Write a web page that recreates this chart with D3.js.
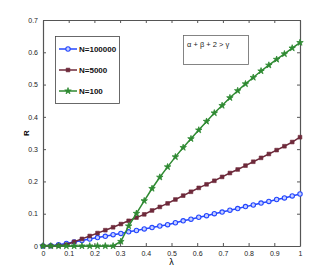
<!DOCTYPE html>
<html>
<head>
<meta charset="utf-8">
<style>
  body { margin: 0; background: #fff; }
  text { font-family: "Liberation Sans", Arial, sans-serif; }
</style>
</head>
<body>
<script src="https://d3js.org/d3.v7.min.js"></script>
<script>
// lambda sampled at i/33, i = 0..33
var lambda = d3.range(34).map(function(i) { return i / 33; });

var rBig = [0, 0.001, 0.004, 0.008, 0.0125, 0.017, 0.0215, 0.026, 0.030, 0.035, 0.039, 0.044,
            0.048, 0.053, 0.057, 0.062, 0.066, 0.072, 0.078, 0.083, 0.089, 0.094, 0.100, 0.105,
            0.111, 0.116, 0.122, 0.127, 0.133, 0.138, 0.144, 0.149, 0.155, 0.161];
var rMid = [0, 0, 0.001, 0.004, 0.013, 0.022, 0.031, 0.040, 0.049, 0.058, 0.068, 0.078,
            0.088, 0.098, 0.110, 0.121, 0.132, 0.144, 0.156, 0.168, 0.180, 0.191, 0.202, 0.214,
            0.226, 0.237, 0.249, 0.261, 0.273, 0.285, 0.297, 0.309, 0.322, 0.337];
var rSmall = [0, 0, 0, 0, 0, 0, 0, 0, 0, 0, 0.014, 0.062,
              0.101, 0.140, 0.178, 0.213, 0.245, 0.276, 0.305, 0.332, 0.359, 0.386, 0.412, 0.435,
              0.459, 0.481, 0.502, 0.522, 0.542, 0.560, 0.578, 0.595, 0.613, 0.630];

var seriesNames = ["N=100000", "N=5000", "N=100"];
var xTicks = [0, 0.1, 0.2, 0.3, 0.4, 0.5, 0.6, 0.7, 0.8, 0.9, 1];
var yTicks = [0, 0.1, 0.2, 0.3, 0.4, 0.5, 0.6, 0.7];

var W = 332, H = 277;
var margin = {top: 20, right: 32, bottom: 31, left: 43};
var width = W - margin.left - margin.right,
    height = H - margin.top - margin.bottom;

var x = d3.scaleLinear().domain([0, 1]).range([0, width]);
var y = d3.scaleLinear().domain([0, 0.7]).range([height, 0]);

var svg = d3.select("body").append("svg")
    .attr("width", W).attr("height", H);

var chart = svg.append("g")
    .attr("transform", "translate(" + margin.left + "," + margin.top + ")");

var fmt = function(d) { return d === 0 ? "0" : d === 1 ? "1" : d3.format(".1f")(d); };

// axes, ticks pointing inward, box on
var gx = chart.append("g").attr("transform", "translate(0," + height + ")")
    .call(d3.axisBottom(x).tickValues(xTicks).tickSizeInner(-3).tickSizeOuter(0).tickPadding(5).tickFormat(fmt));
var gy = chart.append("g")
    .call(d3.axisLeft(y).tickValues(yTicks).tickSizeInner(-3).tickSizeOuter(0).tickPadding(5).tickFormat(fmt));
var gx2 = chart.append("g")
    .call(d3.axisTop(x).tickValues(xTicks).tickSizeInner(-3).tickSizeOuter(0).tickFormat(""));
var gy2 = chart.append("g").attr("transform", "translate(" + width + ",0)")
    .call(d3.axisRight(y).tickValues(yTicks).tickSizeInner(-3).tickSizeOuter(0).tickFormat(""));

[gx, gy, gx2, gy2].forEach(function(g) {
  g.selectAll(".domain").attr("stroke", "#555").attr("stroke-width", 1.2);
  g.selectAll(".tick line").attr("stroke", "#555");
  g.selectAll(".tick text").attr("fill", "#222").style("font-size", "7px");
});

chart.append("text")
    .attr("x", x(0.5)).attr("y", height + 19)
    .attr("text-anchor", "middle").style("font-size", "9px")
    .text("λ");
chart.append("text")
    .attr("transform", "translate(" + (-14) + "," + y(0.35) + ") rotate(-90)")
    .attr("text-anchor", "middle").style("font-size", "8px").style("font-weight", "bold")
    .text("R");

var colors = ["#2447ff", "#6e2a3b", "#2f8a32"];
var data = [rBig, rMid, rSmall];

var line = d3.line()
    .x(function(d, i) { return x(lambda[i]); })
    .y(function(d) { return y(d); });

var star = d3.symbol().type(d3.symbolStar).size(13);
var square = d3.symbol().type(d3.symbolSquare).size(14);

function drawMarker(g, k, cx, cy) {
  if (k === 0) {
    g.append("circle").attr("cx", cx).attr("cy", cy).attr("r", 2.2)
        .attr("fill", "#c8d0ff").attr("stroke", colors[0]).attr("stroke-width", 1.1);
  } else if (k === 1) {
    g.append("path").attr("d", square).attr("transform", "translate(" + cx + "," + cy + ")")
        .attr("fill", colors[1]).attr("stroke", colors[1]).attr("stroke-width", 0.6);
  } else {
    g.append("path").attr("d", star).attr("transform", "translate(" + cx + "," + cy + ")")
        .attr("fill", colors[2]).attr("stroke", colors[2]).attr("stroke-width", 0.8);
  }
}

data.forEach(function(vals, k) {
  chart.append("path").datum(vals)
      .attr("d", line).attr("fill", "none")
      .attr("stroke", colors[k]).attr("stroke-width", 1.5);
  var mg = chart.append("g");
  vals.forEach(function(v, i) { drawMarker(mg, k, x(lambda[i]), y(v)); });
});

// legend
var lg = svg.append("g");
lg.append("rect").attr("x", 55.5).attr("y", 36.5).attr("width", 64).attr("height", 67)
    .attr("fill", "#fff").attr("stroke", "#444").attr("stroke-width", 0.8);
seriesNames.forEach(function(name, k) {
  var yy = 49 + k * 21;
  lg.append("line").attr("x1", 59).attr("x2", 77).attr("y1", yy).attr("y2", yy)
      .attr("stroke", colors[k]).attr("stroke-width", 1.5);
  drawMarker(lg, k, 68, yy);
  lg.append("text").attr("x", 79).attr("y", yy + 3)
      .style("font-size", "8px").style("font-weight", "bold").attr("fill", "#111")
      .text(name);
});

// condition box
svg.append("rect").attr("x", 183.5).attr("y", 35.5).attr("width", 65).attr("height", 29)
    .attr("fill", "#fff").attr("stroke", "#666").attr("stroke-width", 0.8);
svg.append("text").attr("x", 187).attr("y", 47)
    .style("font-size", "7.5px").attr("fill", "#222")
    .text("α + β + 2 > γ");
</script>
</body>
</html>
